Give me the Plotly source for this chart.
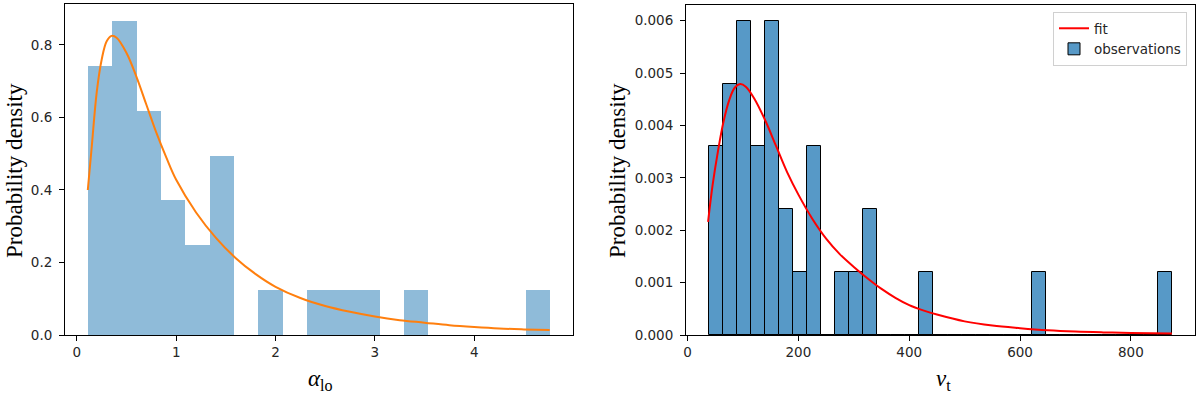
import numpy as np
import plotly.graph_objects as go

# ---------------- data: left panel (alpha_lo) ----------------
alpha_bin_min = 0.113
alpha_bin_max = 4.762
alpha_density = [0.743, 0.867, 0.619, 0.371, 0.248, 0.495, 0.0, 0.124, 0.0,
                 0.124, 0.124, 0.124, 0.0, 0.124, 0.0, 0.0, 0.0, 0.0, 0.124]
alpha_fit_x = [0.11, 0.15, 0.20, 0.25, 0.30, 0.35, 0.40, 0.50, 0.60, 0.70, 0.80,
               0.90, 1.00, 1.20, 1.40, 1.60, 1.80, 2.00, 2.25, 2.50, 2.75, 3.00,
               3.25, 3.50, 3.75, 4.00, 4.25, 4.50, 4.76]
alpha_fit_y = [0.40, 0.52, 0.67, 0.76, 0.81, 0.825, 0.82, 0.778, 0.712, 0.635, 0.558,
               0.490, 0.428, 0.338, 0.268, 0.212, 0.168, 0.133, 0.102, 0.080, 0.064, 0.051,
               0.041, 0.034, 0.027, 0.022, 0.018, 0.0155, 0.0135]
alpha_xticks = [0, 1, 2, 3, 4]
alpha_yticks = [0.0, 0.2, 0.4, 0.6, 0.8]

# ---------------- data: right panel (nu_t) ----------------
nu_bin_min = 38.9
nu_bin_max = 873.9
nu_density = [0.0036, 0.0048, 0.0060, 0.0036, 0.0060, 0.0024, 0.0012, 0.0036, 0.0,
              0.0012, 0.0012, 0.0024, 0.0, 0.0, 0.0, 0.0012, 0.0, 0.0, 0.0, 0.0,
              0.0, 0.0, 0.0, 0.0012, 0.0, 0.0, 0.0, 0.0, 0.0, 0.0, 0.0, 0.0, 0.0012]
nu_fit_x = [37, 45, 55, 65, 75, 85, 95, 105, 120, 140, 160, 180, 200, 225, 250, 275,
            300, 325, 350, 375, 400, 425, 450, 500, 550, 600, 650, 700, 750, 800, 874]
nu_fit_y = [0.00216, 0.00285, 0.00352, 0.00408, 0.00448, 0.00472, 0.00479, 0.00474,
            0.00452, 0.00410, 0.00360, 0.00310, 0.00268, 0.00222, 0.00184, 0.00154,
            0.00130, 0.00108, 0.00088, 0.00071, 0.00057, 0.00047, 0.00039, 0.00026,
            0.00018, 0.00013, 0.00009, 0.000065, 0.00005, 0.00004, 0.00003]
nu_xticks = [0, 200, 400, 600, 800]
nu_yticks = [0.000, 0.001, 0.002, 0.003, 0.004, 0.005, 0.006]

# ---------------- build ----------------
a_edges = np.linspace(alpha_bin_min, alpha_bin_max, len(alpha_density) + 1)
a_w = np.diff(a_edges)
n_edges = np.linspace(nu_bin_min, nu_bin_max, len(nu_density) + 1)
n_w = np.diff(n_edges)

W, H = 1200, 394
def px_x(p):
    return p / W
def px_y(p):
    return (H - p) / H

fig = go.Figure()

fig.add_trace(go.Bar(
    x=a_edges[:-1], y=alpha_density, width=a_w, offset=0,
    marker=dict(color="rgba(31,119,180,0.5)", line=dict(width=0)),
    xaxis="x", yaxis="y", showlegend=False))
fig.add_trace(go.Scatter(
    x=alpha_fit_x, y=alpha_fit_y, mode="lines", line=dict(color="#ff7f0e", width=2, shape="spline"),
    xaxis="x", yaxis="y", showlegend=False))
fig.add_trace(go.Bar(
    x=n_edges[:-1], y=nu_density, width=n_w, offset=0, name="observations",
    marker=dict(color="rgba(31,119,180,0.75)", line=dict(color="black", width=1)),
    xaxis="x2", yaxis="y2", legendrank=2))
fig.add_trace(go.Scatter(
    x=nu_fit_x, y=nu_fit_y, mode="lines", name="fit",
    line=dict(color="red", width=2, shape="spline"),
    xaxis="x2", yaxis="y2", legendrank=1))

tickfont = dict(family="DejaVu Sans", size=13.5, color="#262626")
axis_common = dict(showline=True, linecolor="black", linewidth=1, mirror=True,
                   ticks="outside", ticklen=5, tickwidth=1, tickcolor="black",
                   showgrid=False, zeroline=False, tickfont=tickfont, automargin=False)

a_margin = (alpha_bin_max - alpha_bin_min) * 0.05
n_margin = (nu_bin_max - nu_bin_min) * 0.05

fig.update_layout(
    width=W, height=H, margin=dict(l=0, r=0, t=0, b=0),
    paper_bgcolor="white", plot_bgcolor="white", bargap=0, barmode="overlay",
    xaxis=dict(domain=[px_x(65), px_x(573)], range=[alpha_bin_min - a_margin, alpha_bin_max + a_margin],
               tickvals=alpha_xticks, anchor="y", **axis_common),
    yaxis=dict(domain=[px_y(335), px_y(4)], range=[0, max(alpha_density) * 1.053],
               tickvals=alpha_yticks, tickformat=".1f", anchor="x", ticklabelstandoff=4,
               **axis_common),
    xaxis2=dict(domain=[px_x(686), px_x(1195)], range=[nu_bin_min - n_margin, nu_bin_max + n_margin],
                tickvals=nu_xticks, anchor="y2", **axis_common),
    yaxis2=dict(domain=[px_y(335), px_y(5)], range=[0, max(nu_density) * 1.05],
                tickvals=nu_yticks, tickformat=".3f", anchor="x2", ticklabelstandoff=4,
                **axis_common),
    legend=dict(x=px_x(1187), xanchor="right", y=px_y(12), yanchor="top",
                bgcolor="rgba(255,255,255,0.8)", bordercolor="#d0d0d0", borderwidth=1,
                font=dict(family="DejaVu Sans", size=13.5, color="#262626"),
                traceorder="normal", itemwidth=30, tracegroupgap=4),
)

serif = "Liberation Serif"
def add_label(text, x, y, angle=0):
    fig.add_annotation(text=text, xref="paper", yref="paper", x=px_x(x), y=px_y(y),
                       xanchor="center", yanchor="middle", textangle=angle, showarrow=False,
                       font=dict(family=serif, size=23, color="black"))

add_label("Probability density", 14, 171, -90)
add_label("Probability density", 617, 171, -90)
add_label("<i>α</i><sub>lo</sub>", 320, 380)
add_label("<i>ν</i><sub>t</sub>", 943, 380)

fig.write_html("out.html", config={"displayModeBar": False},
               post_script="document.body.style.margin='0';")
